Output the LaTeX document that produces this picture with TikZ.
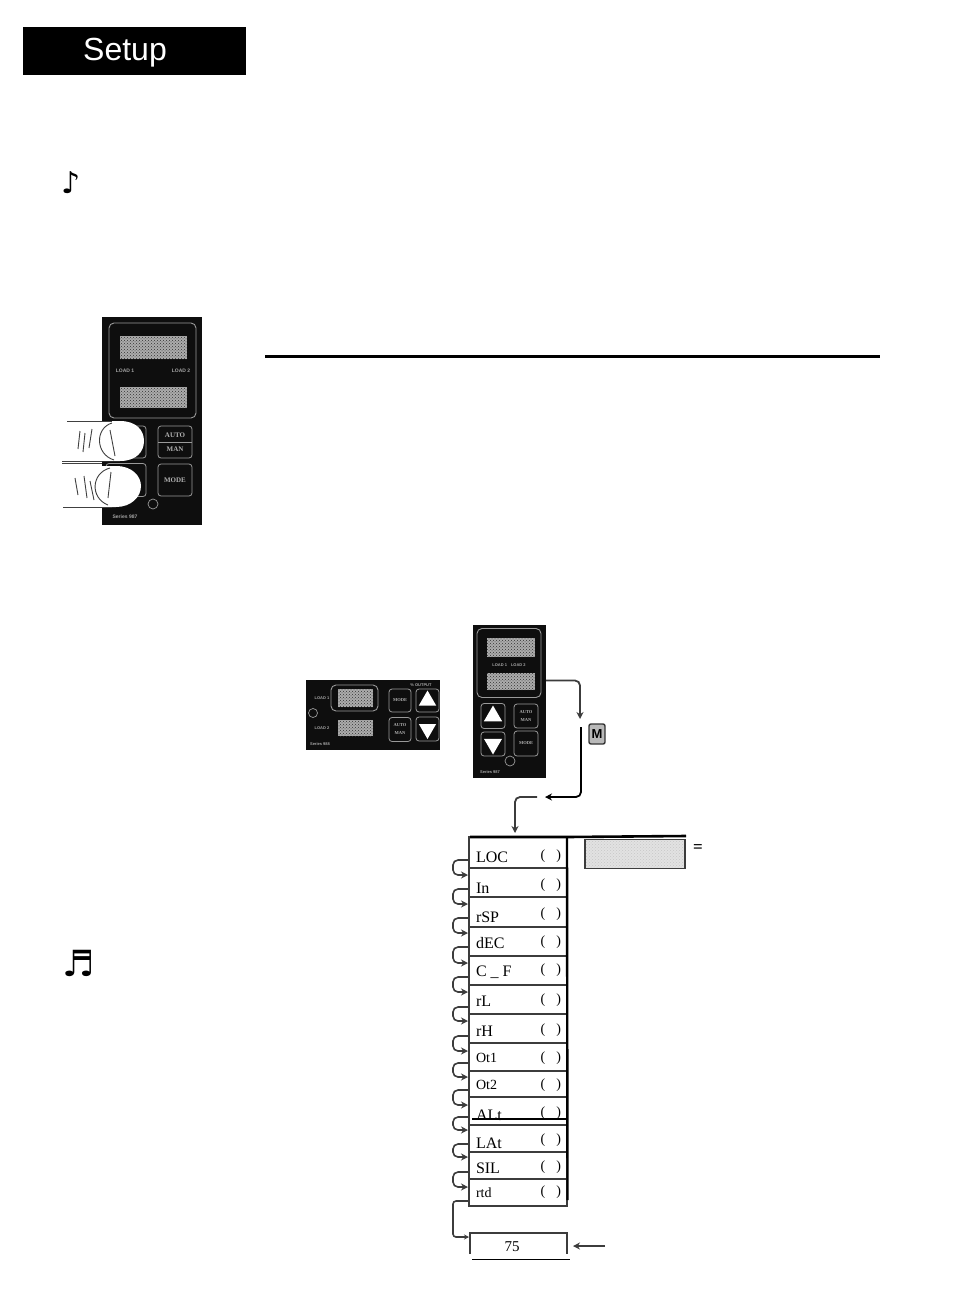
\documentclass[tikz,border=0pt]{standalone}
\usepackage{fontspec}
\setmainfont{Liberation Serif}
\setsansfont{Liberation Sans}
\newfontfamily\symbolfont{DejaVu Sans}
\usepackage{xcolor}
\usepackage{tikz}
\usetikzlibrary{calc,arrows.meta,shapes,positioning,patterns}
\definecolor{LineGray}{RGB}{60,60,60}
\definecolor{PanelBlack}{RGB}{14,14,14}
\definecolor{ShadeGray}{RGB}{226,226,226}
\newcommand{\parens}[1]{\smash{\raisebox{#1}{(\hspace{11pt})}}}

\begin{document}
\begin{tikzpicture} [x=1pt, y=-1pt, >={Stealth[length=7pt,width=7pt]}, LineGray, text=black,
	   every node/.style={inner sep=0pt, outer sep=0pt},
	   panelbox/.style 2 args = {rectangle, fill=PanelBlack, minimum width=#1, minimum height=#2},
	   bezelbox/.style 2 args = {rectangle, rounded corners=5pt, draw=gray!80, line width=0.9pt,
	                             minimum width=#1, minimum height=#2},
	   displaybox/.style 2 args = {rectangle, preaction={fill=gray!65}, pattern=crosshatch dots,
	                               pattern color=black!80, minimum width=#1, minimum height=#2},
	   buttonbox/.style 2 args = {rectangle, rounded corners=3pt, draw=gray!80, line width=0.8pt,
	                              minimum width=#1, minimum height=#2, text=gray!60, align=center,
	                              font=\fontsize{4.5}{8}\selectfont\bfseries},
	   triangleup/.style = {regular polygon, regular polygon sides=3, fill=white, minimum size=#1},
	   triangledown/.style = {triangleup=#1, shape border rotate=180},
	   paneltext/.style = {text=gray!70, font=\sffamily\bfseries\fontsize{5}{6}\selectfont},
	   smalltext/.style = {text=gray!70, font=\sffamily\bfseries\fontsize{4}{5}\selectfont},
	   roundmark/.style = {circle, draw=gray!80, line width=0.7pt, minimum size=#1},
	   rowbox/.style = {rectangle, draw=LineGray, line width=1.5pt, minimum width=98, minimum height=#1,
	                    text width=86, align=right, font=\fontsize{14}{14}\selectfont},
	   rowtext/.style = {font=\fontsize{#1}{#1}\selectfont},
	   rowtext/.default = 16,
	   hookline/.style = {->, rounded corners=5pt, line width=1.6pt, shorten >=1pt},
	   flowline/.style = {->, rounded corners=5pt, line width=1.8pt},
	   fingertip/.style = {fill=white, draw=none},
	   fingerline/.style = {line width=0.9pt, black!75}]
	\useasboundingbox (0,0) rectangle (954,1314);

	%% Title and top rule
	\node [rectangle, fill=black, minimum width=223, minimum height=48] (title) at (134.5,51) {};
	\node [text=white, font=\sffamily\fontsize{32}{32}\selectfont] (titletext) at (125,53) {Setup};
	\node [rectangle, fill=black, minimum width=615, minimum height=3] (rule) at (572.5,356) {};

	%% Note symbols
	\node [font=\symbolfont\fontsize{30}{30}\selectfont] (note1) at (71,183) {♪};
	\node [font=\symbolfont\fontsize{36}{36}\selectfont] (note2) at (79,963) {♬};

	%% Vertical controller with fingers
	\node [panelbox={100}{208}] (panela) at (152,421) {};
	\node [bezelbox={87}{95}] (bezela) at (152.5,370.5) {};
	\node [displaybox={67}{23}] (dispa1) at (153.5,347.5) {};
	\node [displaybox={67}{21}] (dispa2) at (153.5,397.5) {};
	\node [paneltext] (loada1) at (125,370.5) {LOAD 1};
	\node [paneltext] (loada2) at (181,370.5) {LOAD 2};
	\node [buttonbox={34}{32}, font=\fontsize{7}{14}\selectfont\bfseries] (autoa) at (175,442) {AUTO\\MAN};
	\draw [draw=gray!80, line width=0.8pt] (autoa.west) -- (autoa.east);
	\node [buttonbox={34}{32}, font=\fontsize{7}{8}\selectfont\bfseries] (modea) at (175,480) {MODE};
	\node [buttonbox={40}{32}] (upa) at (126,442) {};
	\node [buttonbox={40}{33}] (downa) at (126,480) {};
	\node [roundmark=10] (marka) at (153,504) {};
	\node [paneltext] (seriesa) at (125,517) {Series 987};

	%% Fingers
	\path [fingertip] (62,421) -- (120,421) .. controls (136,421) and (144,430) .. (144,441)
	      .. controls (144,452) and (136,461) .. (120,461) -- (62,461) -- cycle;
	\path [fingertip] (62,466) -- (116,466) .. controls (132,466) and (141,476) .. (141,486)
	      .. controls (141,497) and (131,507) .. (116,507) -- (62,507) -- cycle;
	\draw [fingerline] (67,421) -- (112,421);
	\draw [fingerline] (62,461) -- (102,461);
	\draw [fingerline] (62,463) -- (102,463);
	\draw [fingerline] (63,507) -- (112,507);
	\draw [fingerline] (112,423) .. controls (95,428) and (95,454) .. (114,460);
	\draw [fingerline] (110,430) -- (115,456);
	\draw [fingerline] (110,468) .. controls (91,473) and (90,498) .. (108,505);
	\draw [fingerline] (111,472) -- (108,498);
	\draw [fingerline] (80,431) -- (78,449);
	\draw [fingerline] (85,433) -- (83,452);
	\draw [fingerline] (92,429) -- (89,448);
	\draw [fingerline] (75,478) -- (78,495);
	\draw [fingerline] (84,476) -- (87,498);
	\draw [fingerline] (90,481) -- (94,500);

	%% Horizontal controller
	\node [panelbox={134}{70}] (panelb) at (373,714.5) {};
	\node [bezelbox={47}{26}] (bezelb) at (354.5,698) {};
	\node [displaybox={35}{18}] (dispb1) at (355.5,698) {};
	\node [displaybox={35}{16}] (dispb2) at (355.5,728) {};
	\node [buttonbox={22}{23}] (modeb) at (400,700.5) {MODE};
	\node [buttonbox={22}{24}] (autob) at (400,729.5) {AUTO\\MAN};
	\node [buttonbox={23}{23}] (upb) at (427.5,700.5) {};
	\node [buttonbox={23}{24}] (downb) at (427.5,729) {};
	\node [triangleup=20] (upbmark) at (upb.center) {};
	\node [triangledown=20] (downbmark) at (downb.center) {};
	\node [roundmark=9] (markb) at (313,713) {};
	\node [smalltext] (loadb1) at (322,698) {LOAD 1};
	\node [smalltext] (loadb2) at (322,728) {LOAD 2};
	\node [smalltext] (seriesb) at (320,744) {Series 988};
	\node [smalltext] (outb) at (421,685) {\% OUTPUT};

	%% Upright controller
	\node [panelbox={73}{153}] (panelc) at (509.5,701.5) {};
	\node [bezelbox={64}{69}] (bezelc) at (509,663) {};
	\node [displaybox={48}{19}] (dispc1) at (511,647.5) {};
	\node [displaybox={48}{17}] (dispc2) at (511,681.5) {};
	\node [smalltext] (loadc) at (509,665) {LOAD 1\quad LOAD 2};
	\node [buttonbox={24}{25}] (upc) at (493,716) {};
	\node [buttonbox={24}{24}] (downc) at (493,744) {};
	\node [triangleup=21] (upcmark) at (upc.center) {};
	\node [triangledown=21] (downcmark) at (downc.center) {};
	\node [buttonbox={24}{24}] (autoc) at (526,716) {AUTO\\MAN};
	\node [buttonbox={24}{25}] (modec) at (526,743.5) {MODE};
	\node [roundmark=10] (markc) at (510,761) {};
	\node [smalltext] (seriesc) at (490,772) {Series 987};

	%% Mode key
	\node [rectangle, rounded corners=2pt, draw=black!80, fill=gray!55, line width=1.4pt,
	       minimum width=16, minimum height=20, font=\sffamily\bfseries\fontsize{13}{13}\selectfont] (mkey) at (597,734) {M};
	\coordinate (gapa) at (580,719);
	\coordinate (gapb) at (581,727);
	\coordinate (gapc) at (545,797);
	\coordinate (gapd) at (537,797);
	\coordinate (gape) at (515,833);

	%% Parameter list
	\node [rowbox=31] (loc) at (518,852.5) {\parens{-7pt}};
	\node [rowbox=29, below=0pt of loc] (in) {\parens{-6pt}};
	\node [rowbox=30, below=0pt of in] (rsp) {\parens{-5.5pt}};
	\node [rowbox=29, below=0pt of rsp] (dec) {\parens{-4pt}};
	\node [rowbox=29, below=0pt of dec] (cf) {\parens{-3pt}};
	\node [rowbox=29, below=0pt of cf] (rl) {\parens{-4pt}};
	\node [rowbox=29, below=0pt of rl] (rh) {\parens{-5pt}};
	\node [rowbox=28, below=0pt of rh] (ot1) {\parens{-4.5pt}};
	\node [rowbox=26, below=0pt of ot1] (ot2) {\parens{-4.5pt}};
	\node [rowbox=28, below=0pt of ot2] (alt) {\parens{-5.5pt}};
	\node [rowbox=27, below=0pt of alt] (lat) {\parens{-5pt}};
	\node [rowbox=27, below=0pt of lat] (sil) {\parens{-5pt}};
	\node [rowbox=27, below=0pt of sil] (rtd) {\parens{-3pt}};

	\node [rowtext, right=7pt of loc.west, yshift=-5pt] (loctext) {LOC};
	\node [rowtext, right=7pt of in.west, yshift=-6pt] (intext) {In};
	\node [rowtext, right=7pt of rsp.west, yshift=-5pt] (rsptext) {rSP};
	\node [rowtext, right=7pt of dec.west, yshift=-2pt] (dectext) {dEC};
	\node [rowtext, right=7pt of cf.west, yshift=-2pt] (cftext) {C \_ F};
	\node [rowtext, right=7pt of rl.west, yshift=-2pt] (rltext) {rL};
	\node [rowtext, right=7pt of rh.west, yshift=-3pt] (rhtext) {rH};
	\node [rowtext=14, right=7pt of ot1.west, yshift=-1pt] (ot1text) {Ot1};
	\node [rowtext=14, right=7pt of ot2.west, yshift=-1pt] (ot2text) {Ot2};
	\node [rowtext, right=7pt of alt.west, yshift=-4pt] (alttext) {ALt};
	\node [rowtext, right=7pt of lat.west, yshift=-5pt] (lattext) {LAt};
	\node [rowtext, right=7pt of sil.west, yshift=-3pt] (siltext) {SIL};
	\node [rowtext=14, right=7pt of rtd.west] (rtdtext) {rtd};

	%% Heavy edges round the list
	\coordinate (topleft) at (470,837);
	\coordinate (topright) at (686,836);
	\coordinate (sideend) at (567.5,1200);
	\draw [black, line width=2.6pt] (topleft) -- (loc.north east) -- (topright);
	\draw [black, line width=2.4pt] (loc.north east) -- (sideend);
	\draw [black, line width=1.8pt] ([xshift=3pt,yshift=6pt]alt.south west) -- ([yshift=6pt]alt.south east);

	%% Shaded readout
	\node [rectangle, draw=LineGray, line width=1.4pt, preaction={fill=ShadeGray}, pattern=crosshatch dots,
	       pattern color=gray!45, minimum width=100, minimum height=29] (shade) at (635,854) {};
	\node [font=\bfseries\fontsize{17}{17}\selectfont, right=8pt of shade.east, yshift=5pt] (equal) {=};

	%% Last value
	\node [rectangle, minimum width=97, minimum height=21] (value) at (518.5,1243.5) {};
	\node [font=\fontsize{15}{15}\selectfont] (valuetext) at (512,1247) {75};
	\draw [line width=1.4pt] (value.south west) -- (value.north west) -- (value.north east) -- (value.south east);
	\coordinate (baseleft) at (472,1259);
	\coordinate (baseright) at (570,1259);
	\draw [black, line width=0.8pt] (baseleft) -- (baseright);
	\coordinate (pointer) at (605,1246);
	\coordinate (pointerend) at (573,1246);

	%% Flow arrows
	\draw [flowline] ([yshift=21pt]panelc.east) -| (gapa);
	\draw [flowline, black] (gapb) |- (gapc);
	\draw [flowline] (gapd) -| (gape);
	\draw [->, line width=1.8pt] (pointer) -- (pointerend);

	%% Hooks between rows
	\draw [hookline] ([yshift=8pt]loc.south west) -- ++(-16,0) |- ([yshift=-7pt]in.north west);
	\draw [hookline] ([yshift=8pt]in.south west) -- ++(-16,0) |- ([yshift=-7pt]rsp.north west);
	\draw [hookline] ([yshift=9pt]rsp.south west) -- ++(-16,0) |- ([yshift=-6pt]dec.north west);
	\draw [hookline] ([yshift=9pt]dec.south west) -- ++(-16,0) |- ([yshift=-7pt]cf.north west);
	\draw [hookline] ([yshift=8pt]cf.south west) -- ++(-16,0) |- ([yshift=-7pt]rl.north west);
	\draw [hookline] ([yshift=7pt]rl.south west) -- ++(-16,0) |- ([yshift=-7pt]rh.north west);
	\draw [hookline] ([yshift=7pt]rh.south west) -- ++(-16,0) |- ([yshift=-8pt]ot1.north west);
	\draw [hookline] ([yshift=8pt]ot1.south west) -- ++(-16,0) |- ([yshift=-6pt]ot2.north west);
	\draw [hookline] ([yshift=7pt]ot2.south west) -- ++(-16,0) |- ([yshift=-8pt]alt.north west);
	\draw [hookline] ([yshift=8pt]alt.south west) -- ++(-16,0) |- ([yshift=-5pt]lat.north west);
	\draw [hookline] ([yshift=8pt]lat.south west) -- ++(-16,0) |- ([yshift=-5pt]sil.north west);
	\draw [hookline] ([yshift=7pt]sil.south west) -- ++(-16,0) |- ([yshift=-8pt]rtd.north west);
	\draw [hookline, rounded corners=3pt, >={Stealth[length=5pt,width=5pt]}] ([yshift=5pt]rtd.south west) -- ++(-16,0) |- ([yshift=-4pt]value.north west);
\end{tikzpicture}
\end{document}
